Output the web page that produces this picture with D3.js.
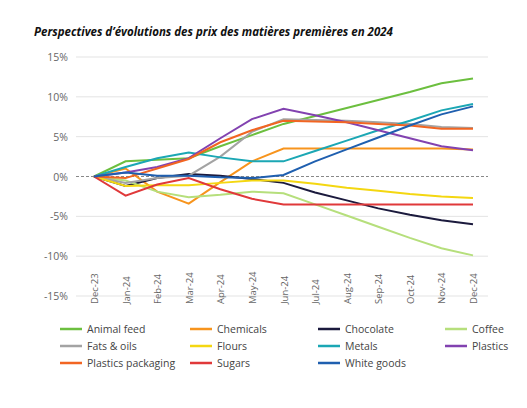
<!DOCTYPE html>
<html><head><meta charset="utf-8">
<script src="https://cdn.jsdelivr.net/npm/d3@7"></script>
<style>body{margin:0;background:#fff;font-family:"Open Sans",sans-serif}</style>
</head><body>
<svg id="c" width="527" height="408"></svg>
<script>
const months = ["Dec-23","Jan-24","Feb-24","Mar-24","Apr-24","May-24","Jun-24","Jul-24","Aug-24","Sep-24","Oct-24","Nov-24","Dec-24"];
const yTicks = [-15,-10,-5,0,5,10,15];
const names = ["Animal feed","Chemicals","Chocolate","Coffee","Fats & oils","Flours","Metals","Plastics","Plastics packaging","Sugars","White goods"];
const colors = ["#6cbf3f","#f7941d","#1b1a3d","#b6df7c","#a3a3a3","#f4d711","#1ba7b4","#8242b0","#f26522","#e0393a","#1f5faf"];
const animalFeed = [0,1.9,2.1,2.3,3.8,5.2,6.6,7.6,8.6,9.6,10.6,11.7,12.3];
const chemicals = [0,1.0,-1.9,-3.4,-0.7,1.9,3.5,3.5,3.5,3.5,3.5,3.5,3.4];
const chocolate = [0,-1.2,-0.2,0.3,0.1,-0.3,-0.8,-2.0,-3.0,-4.0,-4.8,-5.5,-6.0];
const coffee = [0,-0.5,-1.9,-2.6,-2.3,-1.9,-2.1,-3.5,-4.9,-6.3,-7.7,-9.0,-9.9];
const fatsOils = [0,-0.8,-0.2,0.1,2.5,5.6,7.2,7.1,7.0,6.8,6.6,6.2,6.1];
const flours = [0,-1.2,-1.1,-1.1,-0.8,-0.5,-0.5,-0.9,-1.4,-1.8,-2.2,-2.5,-2.7];
const metals = [0,1.2,2.3,3.0,2.4,1.9,1.9,3.2,4.5,5.8,7.0,8.3,9.1];
const plastics = [0,0.5,1.2,2.3,4.8,7.2,8.5,7.7,6.8,5.8,4.8,3.8,3.3];
const plasticsPackaging = [0,-0.2,1.0,2.2,4.3,5.8,7.0,6.9,6.8,6.6,6.4,6.0,6.0];
const sugars = [0,-2.4,-1.0,-0.2,-1.6,-2.8,-3.5,-3.5,-3.5,-3.5,-3.5,-3.5,-3.5];
const whiteGoods = [0,0.5,0.1,0.1,-0.1,-0.2,0.2,1.9,3.4,4.9,6.4,7.8,8.8];
const series = [animalFeed,chemicals,chocolate,coffee,fatsOils,flours,metals,plastics,plasticsPackaging,sugars,whiteGoods];

const svg = d3.select("#c");
svg.append("text").attr("x",34).attr("y",36).attr("font-size",11.5).attr("font-weight","bold")
  .attr("font-style","italic").attr("fill","#111").text("Perspectives d’évolutions des prix des matières premières en 2024");

const x = d3.scalePoint().domain(months).range([94,473]);
const y = d3.scaleLinear().domain([-15,15]).range([296,57]);

svg.append("g").selectAll("line").data(yTicks.filter(d=>d!==0)).join("line")
  .attr("x1",76).attr("x2",488).attr("y1",y).attr("y2",y).attr("stroke","#e3e3e3");
svg.append("line").attr("x1",76).attr("x2",488).attr("y1",y(0)).attr("y2",y(0))
  .attr("stroke","#888").attr("stroke-dasharray","3,2");

svg.append("g").selectAll("text").data(yTicks).join("text")
  .attr("x",68).attr("y",d=>y(d)+4).attr("text-anchor","end").attr("font-size",10.5).attr("fill","#666")
  .text(d=>d+"%");

svg.append("g").selectAll("text").data(months).join("text")
  .attr("transform",d=>`translate(${x(d)+4},304) rotate(-90)`).attr("text-anchor","start")
  .attr("font-size",9.5).attr("fill","#666").text(d=>d);

const line = d3.line().x((d,i)=>x(months[i])).y(d=>y(d));
svg.append("g").selectAll("path").data(series).join("path")
  .attr("d",line).attr("fill","none").attr("stroke-width",2).attr("stroke",(d,i)=>colors[i]);

const colX = [60,190,318,445];
const lg = svg.append("g").selectAll("g").data(names).join("g")
  .attr("transform",(d,i)=>`translate(${colX[i%4]},${329+Math.floor(i/4)*17})`);
lg.append("line").attr("x1",0).attr("x2",22).attr("stroke-width",2.5).attr("stroke",(d,i)=>colors[i]);
lg.append("text").attr("x",27).attr("y",4).attr("font-size",10.5).attr("fill","#444").text(d=>d);
</script>
</body></html>
